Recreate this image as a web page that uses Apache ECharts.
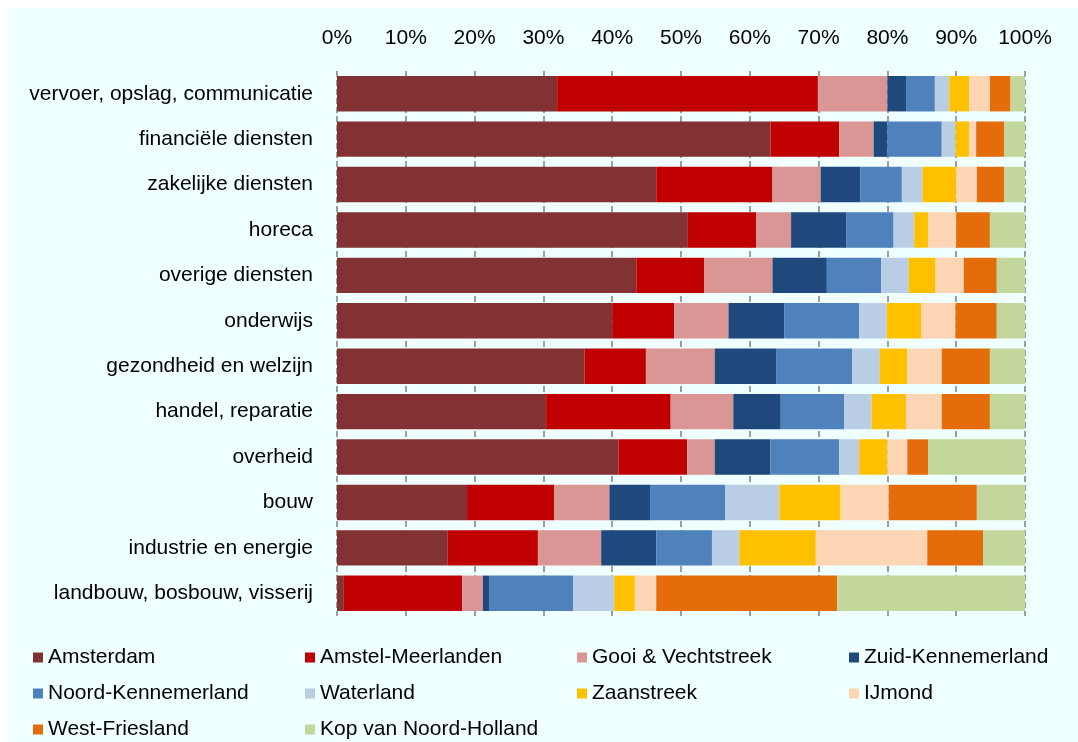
<!DOCTYPE html>
<html>
<head>
<meta charset="utf-8">
<script src="https://cdn.jsdelivr.net/npm/echarts@6/dist/echarts.min.js"></script>
<style>
html,body{margin:0;padding:0;background:#ffffff;}
#chart{position:absolute;left:8px;top:8px;width:1070px;height:734px;background:#F0FFFF;}
</style>
</head>
<body>
<div id="chart"></div>
<script>
const categories = ["vervoer, opslag, communicatie","financiële diensten","zakelijke diensten","horeca","overige diensten","onderwijs","gezondheid en welzijn","handel, reparatie","overheid","bouw","industrie en energie","landbouw, bosbouw, visserij"];
const xTicks = [0,10,20,30,40,50,60,70,80,90,100];
const amsterdam        = [32.0,63.0,46.4,51.0,43.5,40.0,36.0,30.4,40.9,18.9,16.1,1.0];
const amstelMeerlanden = [37.9,10.0,16.9,9.9,9.9,9.0,8.9,18.1,10.0,12.7,13.1,17.2];
const gooiVecht        = [10.1,5.0,7.0,5.1,9.9,7.9,10.0,9.1,4.0,8.0,9.2,3.0];
const zuidKennemerland = [2.8,2.0,5.8,8.0,7.9,8.1,9.0,6.9,8.1,5.9,8.0,0.9];
const noordKennemerland= [4.1,7.9,6.0,6.9,7.9,10.9,11.0,9.2,10.0,10.9,8.1,12.2];
const waterland        = [2.1,2.0,3.0,3.0,4.0,4.0,4.0,4.0,2.9,7.9,4.0,6.0];
const zaanstreek       = [2.9,2.0,4.9,2.0,3.9,5.0,4.0,5.0,4.1,8.9,11.1,3.0];
const ijmond           = [3.0,1.0,3.0,4.1,4.1,5.0,5.0,5.2,2.9,7.0,16.2,3.1];
const westFriesland    = [3.0,4.1,4.0,4.9,4.8,6.0,7.0,7.0,3.0,12.8,8.1,26.3];
const kopNH            = [2.1,3.0,3.0,5.1,4.1,4.1,5.1,5.1,14.1,7.0,6.1,27.3];
const seriesNames = ["Amsterdam","Amstel-Meerlanden","Gooi & Vechtstreek","Zuid-Kennemerland","Noord-Kennemerland","Waterland","Zaanstreek","IJmond","West-Friesland","Kop van Noord-Holland"];
const seriesData = [amsterdam,amstelMeerlanden,gooiVecht,zuidKennemerland,noordKennemerland,waterland,zaanstreek,ijmond,westFriesland,kopNH];
const colors = ["#833234","#C00000","#D99694","#1F497D","#4F81BD","#B9CDE5","#FFC000","#FCD5B5","#E46C0A","#C3D69B"];

const font = "'Liberation Sans', Arial, sans-serif";
const chart = echarts.init(document.getElementById('chart'), null, {renderer:'canvas'});

function legendCol(left, names){
  return {
    data: names, orient:'vertical', left: left, top: 639,
    itemWidth: 10, itemHeight: 10, itemGap: 15, icon:'rect', padding:0,
    textStyle:{fontFamily:font, fontSize:21, color:'#000', padding:[0,0,0,0]}
  };
}

chart.setOption({
  animation:false,
  color: colors,
  textStyle:{fontFamily:font},
  grid:{left:329, right:53, top:63, height:545, containLabel:false},
  xAxis:{
    type:'value', position:'top', min:0, max:100, interval:10,
    axisLine:{show:false}, axisTick:{show:false},
    axisLabel:{formatter: v => xTicks.includes(v) ? v + '%' : '', fontSize:21, color:'#000', margin:22, fontFamily:font},
    splitLine:{show:true, lineStyle:{color:'#808080', width:1.5, type:[6,3]}}
  },
  yAxis:{
    type:'category', data:categories, inverse:true,
    axisLine:{show:false}, axisTick:{show:false},
    axisLabel:{fontSize:21, color:'#000', margin:24, fontFamily:font}
  },
  legend:[
    legendCol(25, [seriesNames[0],seriesNames[4],seriesNames[8]]),
    legendCol(297, [seriesNames[1],seriesNames[5],seriesNames[9]]),
    legendCol(569, [seriesNames[2],seriesNames[6]]),
    legendCol(841, [seriesNames[3],seriesNames[7]])
  ],
  series: seriesNames.map((n,i)=>({
    name:n, type:'bar', stack:'total', data:seriesData[i],
    barCategoryGap:'22%', itemStyle:{color:colors[i]}
  }))
});
</script>
</body>
</html>
